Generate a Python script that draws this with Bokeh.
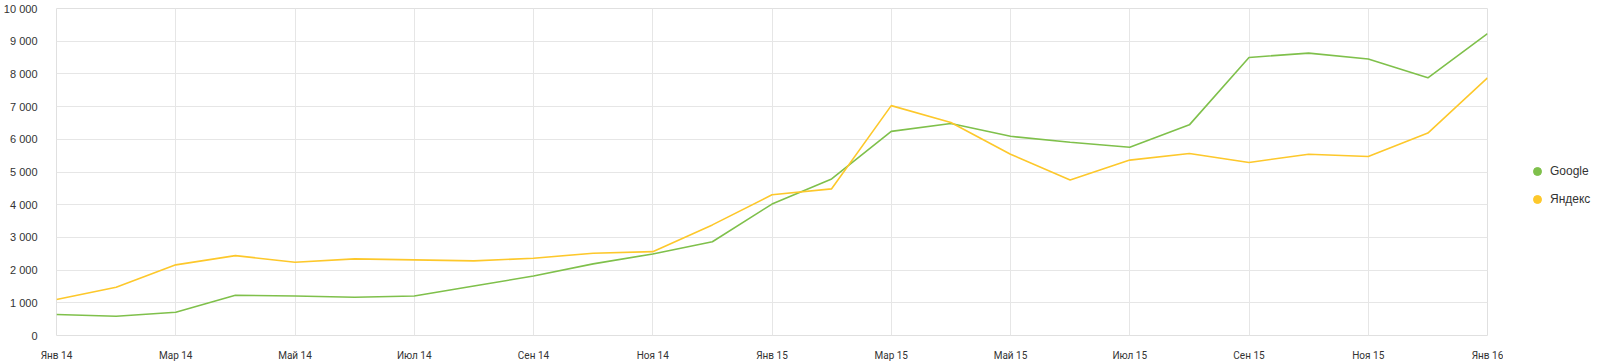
from bokeh.plotting import figure
from bokeh.layouts import row
from bokeh.models import FixedTicker, Legend, LegendItem, Range1d
from bokeh.embed import file_html
from bokeh.resources import INLINE

months = ["Янв 14", "Фев 14", "Мар 14", "Апр 14", "Май 14", "Июн 14", "Июл 14", "Авг 14",
          "Сен 14", "Окт 14", "Ноя 14", "Дек 14", "Янв 15", "Фев 15", "Мар 15", "Апр 15",
          "Май 15", "Июн 15", "Июл 15", "Авг 15", "Сен 15", "Окт 15", "Ноя 15", "Дек 15",
          "Янв 16"]
google = [640, 590, 710, 1230, 1210, 1170, 1210, 1515, 1818, 2190, 2494, 2867,
          4018, 4788, 6242, 6485, 6091, 5909, 5758, 6442, 8503, 8636, 8455, 7879, 9230]
yandex = [1100, 1473, 2160, 2442, 2242, 2342, 2312, 2282, 2364, 2515, 2564, 3382,
          4303, 4485, 7030, 6515, 5545, 4758, 5364, 5564, 5291, 5545, 5473, 6191, 7879]
y_ticks = [0, 1000, 2000, 3000, 4000, 5000, 6000, 7000, 8000, 9000, 10000]
y_tick_labels = ["0", "1 000", "2 000", "3 000", "4 000", "5 000", "6 000", "7 000",
                 "8 000", "9 000", "10 000"]
series_names = ["Google", "Яндекс"]

GREEN = "#7fc04b"
YELLOW = "#fdc82b"

x = list(range(len(months)))

p = figure(width=1503, height=363, output_backend="svg", toolbar_location=None,
           x_range=Range1d(0, len(months) - 1), y_range=Range1d(0, 10000),
           min_border_left=53, min_border_right=16, min_border_top=8,
           min_border_bottom=26)

p.line(x, google, line_color=GREEN, line_width=1.6)
p.line(x, yandex, line_color=YELLOW, line_width=1.6)

p.xaxis.ticker = FixedTicker(ticks=x[::2])
p.xaxis.major_label_overrides = {i: months[i] for i in x[::2]}
p.yaxis.ticker = FixedTicker(ticks=y_ticks)
p.yaxis.major_label_overrides = {t: l for t, l in zip(y_ticks, y_tick_labels)}

for ax in (p.xaxis, p.yaxis):
    ax.axis_line_color = None
    ax.major_tick_line_color = None
    ax.minor_tick_line_color = None
    ax.major_label_text_font = "Liberation Sans"
    ax.major_label_text_color = "#333333"
p.yaxis.major_label_text_font_size = "11px"
p.yaxis.major_label_standoff = 13
p.xaxis.major_label_text_font = "Roboto"
p.xaxis.major_label_text_font_size = "10px"
p.xaxis.major_label_standoff = 8

p.xgrid.grid_line_color = "#e6e6e6"
p.ygrid.grid_line_color = "#e6e6e6"
p.outline_line_color = "#e0e0e0"
p.background_fill_color = "white"
p.border_fill_color = "white"

# legend panel on the right
lg = figure(width=97, height=363, output_backend="svg", toolbar_location=None,
            x_range=Range1d(0, 1), y_range=Range1d(0, 1),
            min_border_left=0, min_border_right=0, min_border_top=0, min_border_bottom=0)
lg.axis.visible = False
lg.grid.visible = False
lg.outline_line_color = None
g_dot = lg.scatter([-5], [-5], marker="circle", size=8, fill_color=GREEN, line_color=GREEN)
y_dot = lg.scatter([-5], [-5], marker="circle", size=8, fill_color=YELLOW, line_color=YELLOW)
legend = Legend(items=[LegendItem(label=series_names[0], renderers=[g_dot]),
                       LegendItem(label=series_names[1], renderers=[y_dot])],
                location=(24, 126), border_line_color=None, background_fill_alpha=0,
                label_text_font="Liberation Sans", label_text_font_size="12px",
                label_text_color="#333333", glyph_width=20, glyph_height=20,
                label_height=20, spacing=8, label_standoff=3, padding=0, margin=0)
lg.add_layout(legend, "center")

layout = row(p, lg, spacing=0)
open("out.html", "w").write(file_html(layout, INLINE))
